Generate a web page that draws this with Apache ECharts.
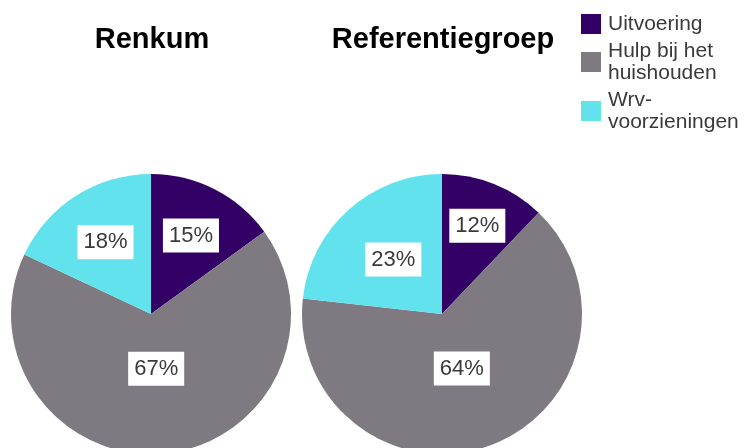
<!DOCTYPE html>
<html lang="nl">
<head>
    <meta charset="UTF-8">
    <title>Renkum vs Referentiegroep</title>
    <script src="https://cdn.jsdelivr.net/npm/echarts@6/dist/echarts.min.js"></script>
    <style>
        html, body { margin: 0; padding: 0; background: #fff; }
        #chart { width: 745px; height: 448px; }
    </style>
</head>
<body>
<div id="chart"></div>
<script>
    // data
    var categories = ['Uitvoering', 'Hulp bij het huishouden', 'Wrv-voorzieningen'];
    var legendLabels = ['Uitvoering', 'Hulp bij het\nhuishouden', 'Wrv-\nvoorzieningen'];
    var pieTitles = ['Renkum', 'Referentiegroep'];
    var renkumValues = [15, 67, 18];
    var referentieValues = [12, 64, 23];

    var colors = ['#330066', '#7f7982', '#62e2ed'];

    // layout: pie centers, radius and where the labels sit (distance from center)
    var centers = [[151, 314], [442, 314]];
    var pieRadius = 140;
    var labelDist = [[88, 55, 85], [95, 58, 73]];

    var allValues = [renkumValues, referentieValues];

    function pieData(values) {
        return values.map(function (v, i) {
            return { name: categories[i], value: v };
        });
    }

    var series = [];
    // visible pies
    allValues.forEach(function (values, p) {
        series.push({
            type: 'pie',
            center: centers[p],
            radius: [0, pieRadius],
            startAngle: 90,
            clockwise: true,
            silent: true,
            label: { show: false },
            labelLine: { show: false },
            itemStyle: { borderWidth: 0 },
            data: pieData(values)
        });
    });
    // transparent pies that only carry the percentage labels
    allValues.forEach(function (values, p) {
        values.forEach(function (val, k) {
            series.push({
                type: 'pie',
                center: centers[p],
                radius: [0, 2 * (labelDist[p][k] - 3)],
                startAngle: 90,
                clockwise: true,
                silent: true,
                z: 5,
                itemStyle: { color: 'rgba(0,0,0,0)', borderWidth: 0 },
                labelLine: { show: false },
                emphasis: { disabled: true },
                data: values.map(function (v, i) {
                    return {
                        name: categories[i],
                        value: v,
                        label: {
                            show: i === k,
                            position: 'inside',
                            formatter: v + '%',
                            fontFamily: 'Liberation Sans, Arial, sans-serif',
                            fontSize: 22,
                            color: '#3a3a3a',
                            backgroundColor: '#ffffff',
                            padding: [6, 6]
                        }
                    };
                })
            });
        });
    });

    var chart = echarts.init(document.getElementById('chart'));
    chart.setOption({
        animation: false,
        color: colors,
        title: pieTitles.map(function (t, p) {
            return {
                text: t,
                left: centers[p][0] + 1,
                top: 25,
                textAlign: 'center',
                padding: 0,
                textStyle: {
                    fontFamily: 'Liberation Sans, Arial, sans-serif',
                    fontSize: 29,
                    fontWeight: 'bold',
                    color: '#000'
                }
            };
        }),
        legend: {
            orient: 'vertical',
            left: 581,
            top: 12,
            padding: 0,
            itemGap: 3,
            itemWidth: 20,
            itemHeight: 20,
            icon: 'rect',
            selectedMode: false,
            data: categories,
            formatter: function (name) {
                return legendLabels[categories.indexOf(name)];
            },
            textStyle: {
                fontFamily: 'Liberation Sans, Arial, sans-serif',
                fontSize: 21,
                lineHeight: 22,
                color: '#3a3a3a',
                padding: [2, 0, 0, 2]
            }
        },
        series: series
    });
</script>
</body>
</html>
